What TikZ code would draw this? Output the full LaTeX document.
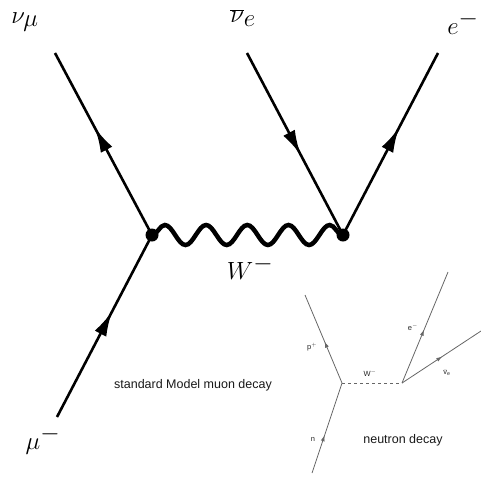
\documentclass[tikz,border=0pt]{standalone}
\usepackage{fontspec}
\setsansfont{Liberation Sans}
\usepackage{tikz}
\usetikzlibrary{arrows.meta,decorations.markings,decorations.pathmorphing}
\tikzset{
  fermion/.style = {line width=2.6pt, postaction={decorate},
                    decoration={markings, mark=at position #1 with
                    {\arrow{Latex[length=25pt,width=13pt]}}}},
  thinline/.style = {line width=0.8pt, gray!80!black, postaction={decorate},
                    decoration={markings, mark=at position #1 with
                    {\arrow{Latex[length=6pt,width=4pt]}}}},
  boson/.style   = {line width=4.5pt, decorate,
                    decoration={snake, segment length=41.2pt, amplitude=10pt}},
  wdash/.style   = {line width=0.8pt, gray!80!black, dashed},
  vertex/.style  = {circle, fill=black, inner sep=0pt, minimum size=13pt},
  nvertex/.style = {inner sep=0pt},
  biglabel/.style = {inner sep=0pt, font=\fontsize{36}{36}\selectfont},
  smalllabel/.style = {inner sep=0pt, gray!30!black, font=\sffamily\fontsize{7.5}{7.5}\selectfont},
  caption/.style = {inner sep=0pt, gray!20!black, font=\sffamily\fontsize{12.5}{14}\selectfont},
}
\begin{document}
\begin{tikzpicture}[x=1pt,y=-1pt]
  \useasboundingbox (0,0) rectangle (481,480);
  % muon decay
  \coordinate (numu) at (55,53);
  \coordinate (nue)  at (247,53);
  \coordinate (el)   at (438,53);
  \coordinate (mu)   at (57,417);
  \node[vertex] (vA) at (152,235) {};
  \node[vertex] (vB) at (343,235) {};
  \draw[boson] (vA.center) -- (vB.center);
  \draw[fermion=0.59] (vA.center) -- (numu);
  \draw[fermion=0.56] (nue) -- (vB.center);
  \draw[fermion=0.59] (vB.center) -- (el);
  \draw[fermion=0.58] (mu) -- (vA.center);
  \node[biglabel] (lnumu) at (25,22)  {$\nu_\mu$};
  \node[biglabel] (lnue)  at (243,18) {$\overline{\nu}_e$};
  \node[biglabel] (lel)   at (463,23) {$e^-$};
  \node[biglabel] (lmu)   at (43,440) {$\mu^-$};
  \node[biglabel] (lw)    at (250,268) {$W^-$};
  \node[caption]  (tmu)   at (193,385) {standard Model muon decay};
  % neutron decay
  \node[nvertex] (nA) at (342,383) {};
  \node[nvertex] (nB) at (402,383) {};
  \coordinate (pp) at (305,295);
  \coordinate (nn) at (312,473);
  \coordinate (ee) at (448,272);
  \coordinate (nb) at (481,331);
  \draw[wdash] (nA.center) -- (nB.center);
  \draw[thinline=0.47] (nA.center) -- (pp);
  \draw[thinline=0.42] (nn) -- (nA.center);
  \draw[thinline=0.48] (nB.center) -- (ee);
  \draw[thinline=0.51] (nB.center) -- (nb);
  \node[smalllabel] (lp)  at (312,347) {p$^+$};
  \node[smalllabel] (lw2) at (370,373) {W$^-$};
  \node[smalllabel] (le2) at (413,327) {e$^-$};
  \node[smalllabel] (lnb) at (447,373) {$\bar{\mathsf{v}}_{\mathsf{e}}$};
  \node[smalllabel] (ln)  at (313,439) {n};
  \node[caption]  (tn)  at (403,440) {neutron decay};
\end{tikzpicture}
\end{document}
